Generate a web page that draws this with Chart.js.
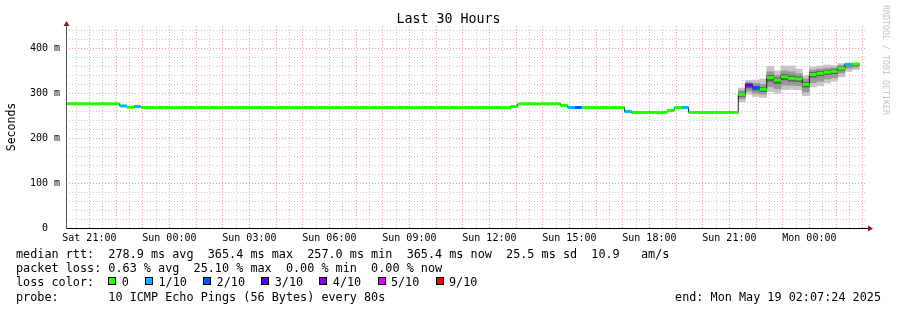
<!DOCTYPE html>
<html><head><meta charset="utf-8">
<script src="https://cdn.jsdelivr.net/npm/chart.js@4/dist/chart.umd.min.js"></script>
<style>
html,body{margin:0;padding:0;background:#fff;}
#wrap{position:relative;width:897px;height:310px;overflow:hidden;font-family:"DejaVu Sans Mono",monospace;color:#000;}
#c{position:absolute;left:0;top:0;}
.t{position:absolute;white-space:pre;font-size:11.8px;line-height:14px;}
#title{position:absolute;left:0;top:11px;width:897px;text-align:center;font-size:13.3px;line-height:16px;white-space:pre;}
#ytitle{position:absolute;left:-39px;top:120px;width:100px;height:14px;line-height:14px;text-align:center;font-size:11.5px;transform:rotate(-90deg);white-space:pre;}
#rrd{position:absolute;left:826px;top:54px;width:120px;height:12px;line-height:12px;text-align:center;font-size:8.3px;color:#c4c4c4;transform:rotate(90deg);white-space:pre;}
.box{position:absolute;width:6px;height:6px;border:1px solid #000;}
</style></head><body>
<div id="wrap">
<canvas id="c" width="897" height="310"></canvas>
<div id="title"></div>
<div id="ytitle"></div>
<div id="rrd"></div>
<div id="legend"></div>
</div>
<script>
// ---- data (time = minutes since Sat 00:00) ----
const titleText = 'Last 30 Hours';
const yAxisTitle = 'Seconds';
const viewStart = 1207.4;   // Sat 20:07:24
const viewEnd = 3007.4;     // Mon 02:07:24
const stepMinutes = 16;

// median rtt runs: start minute, median (ms), lost pings (of 10)
const runStart = [1200,1328,1344,1360,1376,2208,2224,2320,2336,2352,2368,2464,2480,2560,2576,2592,2608,
                  2720,2736,2752,2768,2784,2800,2816,2832,2848,2864,2880,2896,2912,2928,2944,2960,2976];
const runEnd = 2992;
const medianMs = [277,272,269,270.6,268.5,270.7,277,273,268.5,268.5,268.5,259.6,257.3,261.8,268.5,268.5,257.3,
                  297.5,318.5,312.5,309,335,329.5,337,333.5,332,320,342,344.5,347,349,355.7,364.5,365.4];
const lostPings = [0,1,0,1,0,0,0,0,1,2,0,1,0,0,0,1,0,
                   0,3,2,0,0,0,0,0,0,0,0,0,0,0,0,1,0];

// smoke (ping spread) for the last steps
const smokeStep = [2720,2736,2752,2768,2784,2800,2816,2832,2848,2864,2880,2896,2912,2928,2944,2960,2976];
const smokeMin  = [281,298,293,291,304,300,308,309,308,295,314,317,323,327,337,349,353];
const smokeMax  = [312,329,330,332,360,350,361,361,354,340,359,361,363,362,366,367,367];
const smokeMidLo = [288,305,300,298,315,310,318,318,317,303,324,327,332,335,345,356,358];
const smokeMidHi = [306,324,322,320,348,340,350,348,344,332,352,354,356,357,362,366,366];
const smokeInLo = [293,312,307,304,327,322,330,327,326,314,336,339,342,344,351,361,362];
const smokeInHi = [301,321,316,313,340,334,342,339,337,325,347,349,351,353,359,366,366];

// axes
const xLabelMinutes = [1260,1440,1620,1800,1980,2160,2340,2520,2700,2880];
const xTickLabels = ['Sat 21:00','Sun 00:00','Sun 03:00','Sun 06:00','Sun 09:00','Sun 12:00','Sun 15:00','Sun 18:00','Sun 21:00','Mon 00:00'];
const yLabelValues = [0,100,200,300,400];
const yTickLabels = ['0  ','100 m','200 m','300 m','400 m'];

// legend
const statLines = [
  'median rtt:  278.9 ms avg  365.4 ms max  257.0 ms min  365.4 ms now  25.5 ms sd  10.9   am/s',
  'packet loss: 0.63 % avg  25.10 % max  0.00 % min  0.00 % now'
];
const lossLabels = ['0','1/10','2/10','3/10','4/10','5/10','9/10'];
const lossColors = ['#26ff00','#00b8ff','#0059ff','#5e00ff','#7e00ff','#dd00ff','#ff0000'];
const probeText = 'probe:       10 ICMP Echo Pings (56 Bytes) every 80s';
const endText = 'end: Mon May 19 02:07:24 2025';
const watermark = 'RRDTOOL / TOBI OETIKER';

// ---- text layout ----
document.getElementById('title').textContent = titleText;
document.getElementById('ytitle').textContent = yAxisTitle;
document.getElementById('rrd').textContent = watermark;
const leg = document.getElementById('legend');
function addText(txt, left, top, extra) {
  const d = document.createElement('div');
  d.className = 't'; d.textContent = txt;
  d.style.left = left + 'px'; d.style.top = top + 'px';
  if (extra) Object.assign(d.style, extra);
  leg.appendChild(d); return d;
}
const lineTops = [246.5, 261, 275, 289.5];
addText(statLines[0], 16, lineTops[0]);
addText(statLines[1], 16, lineTops[1]);
addText('loss color:', 16, lineTops[2]);
let cx = 108.3;
lossLabels.forEach((lab, i) => {
  const b = document.createElement('div');
  b.className = 'box'; b.style.left = Math.round(cx) + 'px'; b.style.top = '277px';
  b.style.background = lossColors[i];
  leg.appendChild(b);
  const lx = cx + 13.4;
  addText(lab, lx, lineTops[2]);
  cx = lx + lab.length * 7.1 + 16.3;
});
addText(probeText, 16, lineTops[3]);
addText(endText, 0, lineTops[3], {left: 'auto', right: '16px'});

// ---- chart ----
function lossColor(n) {
  if (n <= 4) return lossColors[n];
  if (n <= 8) return lossColors[5];
  return lossColors[6];
}
const medianSegments = [];
runStart.forEach((t, k) => {
  const end = k + 1 < runStart.length ? runStart[k + 1] : runEnd;
  medianSegments.push({x: t, y: medianMs[k]}, {x: end, y: medianMs[k]}, {x: end, y: null});
});
const stepLine = runStart.map((t, k) => ({x: t, y: medianMs[k]}))
  .concat([{x: runEnd, y: medianMs[medianMs.length - 1]}]);
const band = (lo, hi) => smokeStep.map((t, k) => ({x: t + stepMinutes / 2, y: [lo[k], hi[k]]}));

const RED = '#ef9a9a', GREY = '#c9c9c9';
const barCommon = {type: 'bar', grouped: false, barPercentage: 1, categoryPercentage: 1, borderWidth: 0};

const axisDecor = {
  id: 'axisDecor',
  afterDatasetsDraw(chart) {
    const {ctx, chartArea: a} = chart;
    ctx.save();
    ctx.lineWidth = 1;
    ctx.strokeStyle = '#000';
    ctx.beginPath();
    ctx.moveTo(a.left, a.bottom + 0.5); ctx.lineTo(a.right + 3, a.bottom + 0.5);
    ctx.stroke();
    ctx.strokeStyle = '#555';
    ctx.beginPath();
    ctx.moveTo(a.left + 0.5, a.bottom + 1); ctx.lineTo(a.left + 0.5, a.top - 2);
    ctx.stroke();
    ctx.fillStyle = '#8b1a1a';
    ctx.beginPath();
    ctx.moveTo(a.left + 0.5 - 3, a.top); ctx.lineTo(a.left + 0.5 + 3, a.top); ctx.lineTo(a.left + 0.5, a.top - 5);
    ctx.closePath(); ctx.fill();
    ctx.beginPath();
    ctx.moveTo(a.right + 2, a.bottom + 0.5 - 3); ctx.lineTo(a.right + 2, a.bottom + 0.5 + 3); ctx.lineTo(a.right + 7, a.bottom + 0.5);
    ctx.closePath(); ctx.fill();
    ctx.restore();
  }
};

new Chart(document.getElementById('c'), {
  type: 'bar',
  data: {datasets: [
    {type: 'line', data: medianSegments, borderColor: lossColors[0], borderWidth: 3, pointRadius: 0,
     spanGaps: false, clip: 0, borderCapStyle: 'butt', order: 0,
     segment: {borderColor: c => lossColor(lostPings[Math.floor(c.p0DataIndex / 3)])}},
    {type: 'line', data: stepLine, stepped: 'before', borderColor: '#202020', borderWidth: 1, pointRadius: 0, clip: 0, order: 1},
    Object.assign({data: band(smokeInLo, smokeInHi), backgroundColor: '#5e5e5e', order: 2}, barCommon),
    Object.assign({data: band(smokeMidLo, smokeMidHi), backgroundColor: '#999999', order: 3}, barCommon),
    Object.assign({data: band(smokeMin, smokeMax), backgroundColor: '#c6c6c6', order: 4}, barCommon)
  ]},
  options: {
    responsive: false, animation: false, devicePixelRatio: 1,
    layout: {padding: {left: 0, right: 31, top: 26, bottom: 0}},
    plugins: {legend: {display: false}, tooltip: {enabled: false}, title: {display: false}},
    scales: {
      x: {
        type: 'linear', min: viewStart, max: viewEnd, offset: false,
        afterBuildTicks: s => {
          const t = [];
          for (let v = Math.ceil(viewStart / 30) * 30; v <= viewEnd; v += 30) t.push({value: v});
          s.ticks = t;
        },
        afterFit: s => { s.height = 82; },
        grid: {offset: false, drawTicks: false, lineWidth: 1,
               color: c => (c.tick && c.tick.value % 60 === 0) ? RED : GREY},
        border: {display: false, dash: [1, 2]},
        ticks: {autoSkip: false, maxRotation: 0, minRotation: 0, padding: 4, color: '#000',
                font: {family: 'DejaVu Sans Mono', size: 10},
                callback: v => { const i = xLabelMinutes.indexOf(v); return i >= 0 ? xTickLabels[i] : ''; }}
      },
      y: {
        type: 'linear', min: 0, max: 450,
        afterBuildTicks: s => {
          const t = [];
          for (let v = 0; v < 450; v += 20) t.push({value: v});
          s.ticks = t;
        },
        afterFit: s => { s.width = 66; },
        grid: {drawTicks: false, lineWidth: 1,
               color: c => (c.tick && c.tick.value % 100 === 0) ? RED : GREY},
        border: {display: false, dash: [1, 2]},
        ticks: {autoSkip: false, padding: 6, color: '#000', font: {family: 'DejaVu Sans Mono', size: 10},
                callback: v => { const i = yLabelValues.indexOf(v); return i >= 0 ? yTickLabels[i] : ''; }}
      }
    }
  },
  plugins: [axisDecor]
});
</script>
</body></html>
